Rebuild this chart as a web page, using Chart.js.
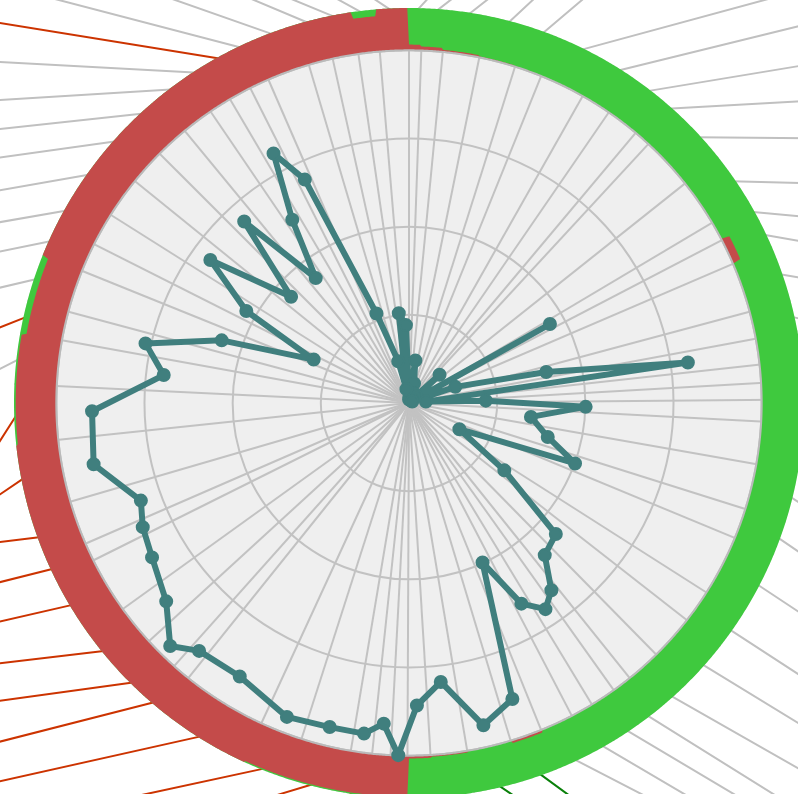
<!DOCTYPE html>
<html>
<head>
<meta charset="utf-8">
<script src="https://cdn.jsdelivr.net/npm/chart.js@4.4.1/dist/chart.umd.min.js"></script>
<style>
html, body { margin:0; padding:0; background:#ffffff; overflow:hidden; width:798px; height:794px; }
#c { position:absolute; left:0; top:0; }
</style>
</head>
<body>
<canvas id="c" width="818" height="806"></canvas>
<script>
// ---------------- data ----------------
// angular width of each category sector, clockwise from the top (degrees)
const sectorWidths = [2.1,3.5,6.0,5.9,4.4,7.5,5.1,5.5,2.7,8.9,7.6,3.3,4.2,8.3,4.6,4.2,3.0,2.7,3.5,7.0,
  7.4,5.1,9.9,5.5,7.5,5.8,3.2,4.4,3.8,5.4,5.3,7.3,5.9,3.8,2.8,3.0,3.5,8.2,6.9,14.1,
  3.0,5.6,6.8,9.4,2.8,7.4,10.3,8.6,7.5,4.9,7.0,4.7,5.4,6.9,5.9,5.6,5.1,3.8,3.8,3.2,
  6.9,4.0,4.4,3.5,4.7];
// teal series value of each category (radial units, disc edge = 100)
const seriesValues = [1,2,12.2,5.7,3,3,2,3,2,11.8,1,45.8,1,13.9,39.9,79.9,4.8,21.8,50.1,34.8,
  40.5,50.1,16.1,33.1,55.8,57.8,66.7,70.1,65.2,49.8,88.9,93.8,79.6,85.8,99.9,91.2,94.6,94.6,95.5,91.2,
  92.1,96.6,88.9,85,83.3,80.9,91.1,89.9,70,76.6,56,29.7,53,69.4,45,69.5,44.2,61.6,80.5,69.9,
  27,12.2,4,25.6,22.1];
// share of the outer ring that is red (inner part) for each category; rest is green
const ringRedShare = [0.135,0.095,0.05,0.025,0.012,0,0,0,0,0,0,0,0.2,0,0,0,0,0,0,0,
  0,0,0,0,0,0,0,0,0,0,0.065,0,0.04,0.065,0.97,0.97,0.97,0.97,0.97,1,
  1,1,1,1,1,1,1,0.96,0.96,0.85,0.85,1,1,1,1,1,1,1,1,1,
  1,1,1,0.84,1];
// leader line target (label anchor, off the visible area) for each category: angle (deg) and radius
const labelAngles = [4.2,8.3,12.9,18.6,24.6,45.2,46.5,49.8,52.9,56.6,61.2,66.2,69.2,73.8,80.3,84.5,88,91,94,99,
  106,111.5,118.4,124.7,128.9,132.4,136.2,139.2,143.5,147.4,156,163.1,170.3,177.8,184,188.1,192.3,201,216.8,228.2,
  231.2,234.9,238.5,242.4,246.8,251.7,256.6,262.9,273.2,278.9,284.4,288.9,292.4,296.1,299.6,301.7,304.5,308,311.3,317.55,
  327.7,336.4,341.6,347.7,352.8];
const labelRadii = [118.7,119.7,121.5,125,130.2,170,156.2,148.6,142.4,136,129.6,129.6,126.1,122.7,125,125,125,125,125,125,
  125,123.7,133.3,142.7,150.9,159.4,159.6,151.9,143.1,135.8,126.7,120.3,119.8,118.2,118.4,117.9,118.6,121,141,162.9,
  155.6,148.5,142.5,136.9,132.1,128,123.8,119.3,121.7,123,125.5,128.5,131.5,135.3,139.7,146,150.8,157.8,165.5,157.5,
  138.2,127.8,123.3,120.1,118.9];
// leader colour group: g = grey, r = red, v = green
const leaderGroups = ['g','g','g','g','g','g','g','g','g','g','g','g','g','g','g','v','g','g','g','g',
  'g','g','g','g','g','g','g','g','g','g','v','v','v','v','r','r','r','r','r','r',
  'r','r','r','r','r','r','r','r','g','r','g','g','g','g','g','g','g','g','r','g',
  'g','g','g','g','g'];
const gridStep = 25;
const DISC_MAX = 100;
const RING_MAX = 112;

// ---------------- styling ----------------
const TEAL = '#407f7e';
const RED = '#c44b4a';
const GREEN = '#3fc93e';
const GRID = '#c2c2c2';
const LEADER = { g: '#c0c0c0', r: '#cc3300', v: '#0a800a' };

// ---------------- build radar structure ----------------
const N = 1440, STEP = 360 / N;
const labels = Array.from({ length: N }, (_, i) => String(i));
const edges = [0];
sectorWidths.forEach(w => edges.push(edges[edges.length - 1] + w));
const mids = sectorWidths.map((w, k) => edges[k] + w / 2);
const toIndex = a => ((Math.round(a / STEP) % N) + N) % N;
const edgeIdx = edges.map(e => Math.round(e / STEP));
const spokeSet = new Set(edgeIdx.slice(0, sectorWidths.length).map(i => i % N));

const series = new Array(N).fill(null);
mids.forEach((m, k) => { series[toIndex(m)] = seriesValues[k]; });

const ringOuter = labels.map(() => RING_MAX);
const ringInner = labels.map(() => DISC_MAX);
const rimLine = labels.map(() => DISC_MAX);
const ringRed = new Array(N).fill(DISC_MAX);
for (let k = 0; k < sectorWidths.length; k++) {
  for (let i = edgeIdx[k]; i < edgeIdx[k + 1] && i < N; i++) {
    ringRed[i] = DISC_MAX + (RING_MAX - DISC_MAX) * ringRedShare[k];
  }
}

const datasets = [
  { label: 'series', data: series, order: 0, spanGaps: true, fill: false,
    borderColor: TEAL, backgroundColor: TEAL, borderWidth: 6, borderJoinStyle: 'round',
    pointRadius: 6, pointBorderWidth: 2, pointBackgroundColor: TEAL, pointBorderColor: TEAL, clip: false },
  { label: 'rim', data: rimLine, order: 1, fill: false, borderColor: '#bababa', borderWidth: 2, pointRadius: 0 },
  { label: 'red', data: ringRed, order: 2, fill: 4, backgroundColor: RED,
    borderColor: 'rgba(0,0,0,0)', borderWidth: 0, pointRadius: 0 },
  { label: 'green', data: ringOuter, order: 3, fill: 4, backgroundColor: GREEN,
    borderColor: 'rgba(0,0,0,0)', borderWidth: 0, pointRadius: 0 },
  { label: 'inner', data: ringInner, order: 4, fill: false,
    borderColor: 'rgba(0,0,0,0)', borderWidth: 0, pointRadius: 0 }
];
mids.forEach((m, k) => {
  const d = new Array(N).fill(null);
  const a = toIndex(m);
  let b = toIndex(labelAngles[k]);
  if (b === a) b = (b + 1) % N;
  d[a] = RING_MAX - 1;
  d[b] = labelRadii[k];
  datasets.push({ label: 'leader' + k, data: d, order: 5, spanGaps: true, fill: false,
    borderColor: LEADER[leaderGroups[k]], borderWidth: 2, pointRadius: 0, clip: false });
});

new Chart(document.getElementById('c'), {
  type: 'radar',
  data: { labels, datasets },
  options: {
    responsive: false,
    animation: false,
    devicePixelRatio: 1,
    events: [],
    layout: { padding: 8 },
    elements: { line: { tension: 0 } },
    plugins: { legend: { display: false }, tooltip: { enabled: false }, title: { display: false } },
    scales: {
      r: {
        min: 0, max: RING_MAX, startAngle: 0,
        backgroundColor: '#efefef',
        grid: { circular: true, lineWidth: 2,
          color: c => (c.tick && c.tick.value > DISC_MAX) ? 'rgba(0,0,0,0)' : GRID },
        angleLines: { display: true, color: GRID,
          lineWidth: c => spokeSet.has(c.index) ? 2 : 0 },
        ticks: { display: false, stepSize: gridStep },
        pointLabels: { display: false }
      }
    }
  }
});
</script>
</body>
</html>
